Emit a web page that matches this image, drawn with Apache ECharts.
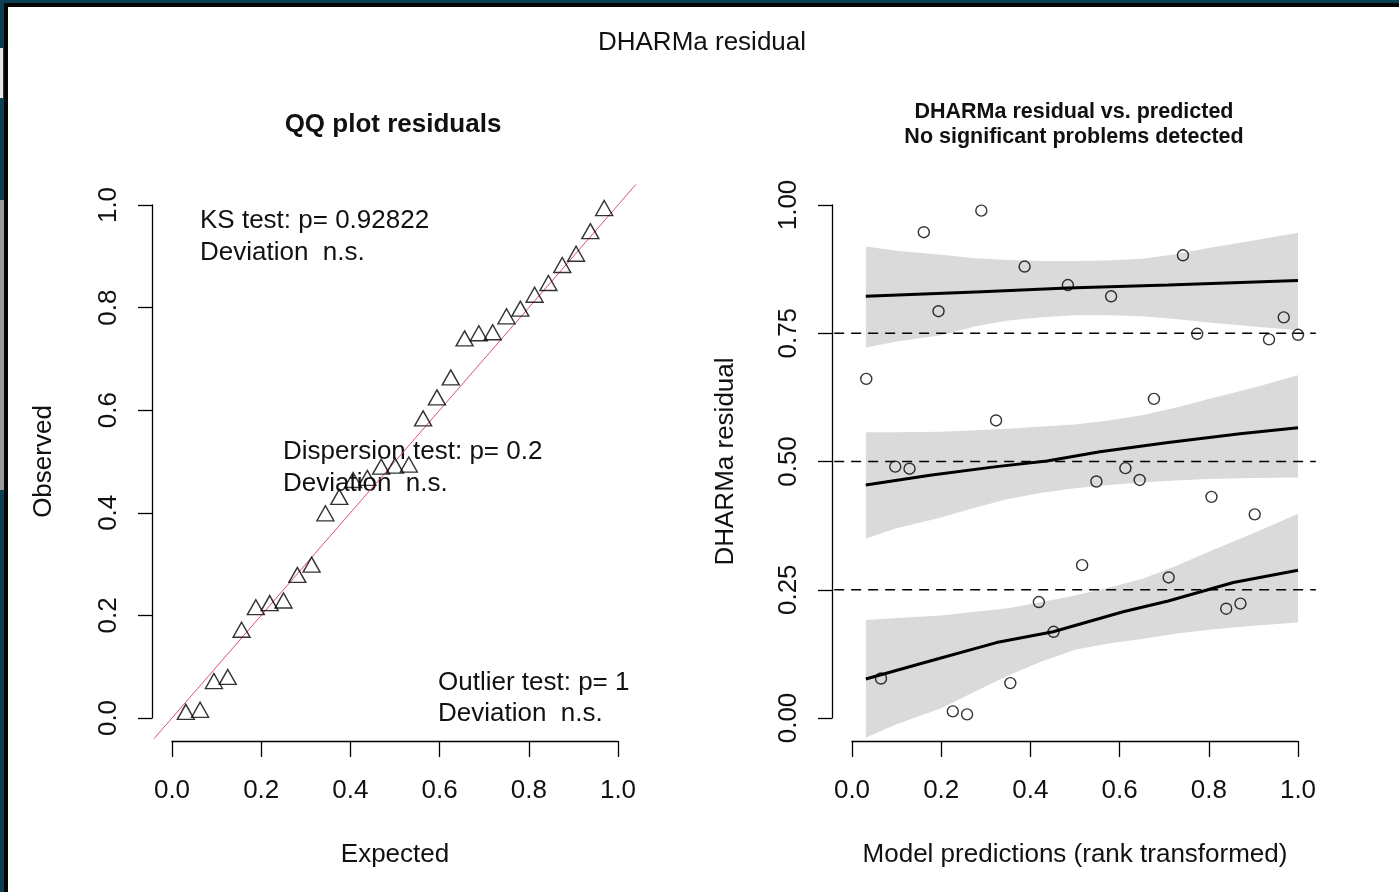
<!DOCTYPE html>
<html>
<head>
<meta charset="utf-8">
<script src="https://cdn.jsdelivr.net/npm/echarts@6/dist/echarts.min.js"></script>
<style>
html,body{margin:0;padding:0;background:#fff;}
#chart{width:1399px;height:892px;}
</style>
</head>
<body>
<div id="chart"></div>
<script>
// ---------- data ----------
// QQ plot (left)
const qqExpected = [0.031,0.063,0.094,0.125,0.156,0.188,0.219,0.250,0.281,0.313,0.344,0.375,0.406,0.438,0.469,0.500,0.531,0.563,0.594,0.625,0.656,0.688,0.719,0.750,0.781,0.813,0.844,0.875,0.906,0.938,0.969];
const qqObserved = [0.012,0.016,0.072,0.080,0.172,0.216,0.224,0.229,0.279,0.299,0.399,0.431,0.464,0.468,0.490,0.492,0.494,0.584,0.625,0.664,0.740,0.750,0.752,0.783,0.798,0.825,0.848,0.883,0.905,0.949,0.994];
const diagonal = [-0.04, 1.04];

// Residual vs predicted (right)
const rankPred = [0.032,0.065,0.097,0.129,0.161,0.194,0.226,0.258,0.290,0.323,0.355,0.387,0.419,0.452,0.484,0.516,0.548,0.581,0.613,0.645,0.677,0.710,0.742,0.774,0.806,0.839,0.871,0.903,0.935,0.968,1.000];
const residuals = [0.661,0.077,0.490,0.486,0.947,0.793,0.013,0.007,0.989,0.580,0.068,0.880,0.226,0.168,0.844,0.298,0.461,0.822,0.487,0.464,0.622,0.274,0.902,0.749,0.431,0.213,0.223,0.397,0.738,0.781,0.747];
const quantileLevels = [0.25, 0.5, 0.75];

const q75X = [0.031,0.291,0.483,0.709,1.0];
const q75Y = [0.822,0.831,0.838,0.844,0.853];
const q50X = [0.031,0.175,0.324,0.437,0.556,0.709,0.870,1.0];
const q50Y = [0.454,0.473,0.490,0.501,0.519,0.537,0.554,0.566];
const q25X = [0.031,0.175,0.324,0.451,0.608,0.709,0.855,1.0];
const q25Y = [0.076,0.111,0.147,0.168,0.207,0.228,0.264,0.288];

const bandX    = [0.031,0.1,0.2,0.275,0.35,0.425,0.5,0.575,0.65,0.725,0.8,0.9,1.0];
const band75Hi = [0.919,0.911,0.903,0.896,0.893,0.891,0.891,0.892,0.895,0.904,0.916,0.931,0.946];
const band75Lo = [0.722,0.734,0.746,0.763,0.775,0.781,0.785,0.785,0.783,0.778,0.771,0.763,0.756];
const band50Hi = [0.557,0.557,0.558,0.561,0.564,0.568,0.572,0.580,0.590,0.605,0.622,0.644,0.668];
const band50Lo = [0.350,0.370,0.391,0.410,0.427,0.439,0.448,0.454,0.459,0.463,0.466,0.468,0.469];
const band25Hi = [0.191,0.195,0.200,0.207,0.214,0.226,0.239,0.254,0.271,0.296,0.324,0.360,0.398];
const band25Lo = [-0.038,-0.012,0.019,0.051,0.083,0.110,0.133,0.145,0.154,0.164,0.172,0.180,0.186];

const qqTicks = [0, 1, 0.2];
const resTicks = [0, 1, 0.25];

// ---------- chart ----------
const FONT = "'Liberation Sans', Arial, sans-serif";
const TXT = '#111';
const chart = echarts.init(document.getElementById('chart'), null, {renderer: 'canvas'});

function zip(a, b) { return a.map((v, i) => [v, b[i]]); }

function hiddenAxis(grid, min, max) {
  return {type: 'value', gridIndex: grid, min: min, max: max, show: false};
}
function shownX(grid, ticks, digits, name) {
  return {
    type: 'value', gridIndex: grid, min: ticks[0], max: ticks[1], interval: ticks[2],
    axisLine: {show: true, lineStyle: {color: '#000', width: 1.3}},
    axisTick: {show: true, length: 16, lineStyle: {color: '#000', width: 1.3}},
    axisLabel: {fontSize: 26, fontFamily: FONT, color: TXT, margin: 37,
      formatter: v => v.toFixed(digits)},
    splitLine: {show: false},
    name: name, nameLocation: 'middle', nameGap: 101,
    nameTextStyle: {fontSize: 26, fontFamily: FONT, color: TXT}
  };
}
function shownY(grid, ticks, digits, name, nameGap) {
  return {
    type: 'value', gridIndex: grid, min: ticks[0], max: ticks[1], interval: ticks[2],
    axisLine: {show: true, lineStyle: {color: '#000', width: 1.3}},
    axisTick: {show: true, length: 14, lineStyle: {color: '#000', width: 1.3}},
    axisLabel: {fontSize: 26, fontFamily: FONT, color: TXT, margin: 30, rotate: 90,
      formatter: v => v.toFixed(digits)},
    splitLine: {show: false},
    name: name, nameLocation: 'middle', nameGap: nameGap, nameRotate: 90,
    nameTextStyle: {fontSize: 26, fontFamily: FONT, color: TXT}
  };
}

function bandSeries(lo, hi) {
  return {
    type: 'custom', xAxisIndex: 3, yAxisIndex: 3, z: 1, silent: true, clip: true,
    data: [[0.5, 0.5]],
    renderItem: function (params, api) {
      const top = bandX.map((x, i) => api.coord([x, hi[i]]));
      const bot = bandX.map((x, i) => api.coord([x, lo[i]])).reverse();
      return {type: 'polygon', shape: {points: top.concat(bot)}, style: {fill: '#dadada'}};
    }
  };
}
function lineSeries(xi, yi, data, style, z) {
  return {type: 'line', xAxisIndex: xi, yAxisIndex: yi, data: data, symbol: 'none',
    lineStyle: style, z: z, silent: true, animation: false};
}

// geometry (pixels)
const L = {x0: 172, x1: 618};   // left panel x ticks 0..1
const R = {x0: 852, x1: 1298};  // right panel x ticks 0..1
const Y = {top: 205, bottom: 718}; // y ticks 1..0
const ext = 0.04;
function dataGrid(p) {
  const w = p.x1 - p.x0, h = Y.bottom - Y.top;
  return {left: p.x0 - ext * w, width: w * (1 + 2 * ext), top: Y.top - ext * h, height: h * (1 + 2 * ext)};
}

const option = {
  backgroundColor: '#fff',
  animation: false,
  textStyle: {fontFamily: FONT},
  grid: [
    dataGrid(L),
    {left: L.x0, width: L.x1 - L.x0, top: 731, height: 10},
    {left: 152, width: 10, top: Y.top, height: Y.bottom - Y.top},
    dataGrid(R),
    {left: R.x0, width: R.x1 - R.x0, top: 731, height: 10},
    {left: 832, width: 10, top: Y.top, height: Y.bottom - Y.top}
  ],
  xAxis: [
    hiddenAxis(0, -ext, 1 + ext),
    shownX(1, qqTicks, 1, 'Expected'),
    hiddenAxis(2, 0, 1),
    hiddenAxis(3, -ext, 1 + ext),
    shownX(4, qqTicks, 1, 'Model predictions (rank transformed)'),
    hiddenAxis(5, 0, 1)
  ],
  yAxis: [
    hiddenAxis(0, -ext, 1 + ext),
    hiddenAxis(1, 0, 1),
    shownY(2, qqTicks, 1, 'Observed', 95),
    hiddenAxis(3, -ext, 1 + ext),
    hiddenAxis(4, 0, 1),
    shownY(5, resTicks, 2, 'DHARMa residual', 93)
  ],
  series: [
    // left: QQ
    lineSeries(0, 0, zip(diagonal, diagonal), {color: '#d9536e', width: 1}, 2),
    {
      type: 'scatter', xAxisIndex: 0, yAxisIndex: 0, z: 3,
      data: zip(qqExpected, qqObserved),
      symbol: 'triangle', symbolSize: [17, 15],
      itemStyle: {color: 'rgba(0,0,0,0)', borderColor: '#000', borderWidth: 1.4}
    },
    // right: bands
    bandSeries(band25Lo, band25Hi),
    bandSeries(band50Lo, band50Hi),
    bandSeries(band75Lo, band75Hi),
    // reference dashed lines
    ...quantileLevels.map(q => lineSeries(3, 3, [[-ext, q], [1 + ext, q]],
      {color: '#000', width: 1.4, type: [10, 7]}, 2)),
    // quantile regression lines
    lineSeries(3, 3, zip(q25X, q25Y), {color: '#000', width: 3}, 3),
    lineSeries(3, 3, zip(q50X, q50Y), {color: '#000', width: 3}, 3),
    lineSeries(3, 3, zip(q75X, q75Y), {color: '#000', width: 3}, 3),
    {
      type: 'scatter', xAxisIndex: 3, yAxisIndex: 3, z: 4,
      data: zip(rankPred, residuals),
      symbol: 'circle', symbolSize: 11,
      itemStyle: {color: 'rgba(0,0,0,0)', borderColor: '#000', borderWidth: 1.4}
    }
  ],
  graphic: [
    // frame
    {type: 'rect', left: 0, top: 0, shape: {width: 1399, height: 3}, style: {fill: '#0b4052'}, silent: true},
    {type: 'rect', left: 0, top: 3, shape: {width: 1399, height: 4}, style: {fill: '#050505'}, silent: true},
    {type: 'rect', left: 0, top: 0, shape: {width: 4, height: 892}, style: {fill: '#0b4052'}, silent: true},
    {type: 'rect', left: 4, top: 3, shape: {width: 4, height: 889}, style: {fill: '#050505'}, silent: true},
    {type: 'rect', left: 0, top: 48, shape: {width: 3, height: 50}, style: {fill: '#e8e8e8'}, silent: true},
    {type: 'rect', left: 0, top: 200, shape: {width: 4, height: 290}, style: {fill: '#9a9a9a'}, silent: true},
    // titles
    {type: 'text', x: 702, y: 43, style: {text: 'DHARMa residual', font: '26px ' + FONT, fill: TXT, textAlign: 'center', textVerticalAlign: 'middle'}},
    {type: 'text', x: 393, y: 125, style: {text: 'QQ plot residuals', font: 'bold 26px ' + FONT, fill: TXT, textAlign: 'center', textVerticalAlign: 'middle'}},
    {type: 'text', x: 1074, y: 124.5, style: {text: 'DHARMa residual vs. predicted\nNo significant problems detected', font: 'bold 21.5px ' + FONT, lineHeight: 25, fill: TXT, textAlign: 'center', textVerticalAlign: 'middle'}},
    // test annotations
    {type: 'text', x: 200, y: 237, style: {text: 'KS test: p= 0.92822\nDeviation  n.s.', font: '26px ' + FONT, lineHeight: 32, fill: TXT, textAlign: 'left', textVerticalAlign: 'middle'}},
    {type: 'text', x: 283, y: 468, style: {text: 'Dispersion test: p= 0.2\nDeviation  n.s.', font: '26px ' + FONT, lineHeight: 32, fill: TXT, textAlign: 'left', textVerticalAlign: 'middle'}},
    {type: 'text', x: 438, y: 698, style: {text: 'Outlier test: p= 1\nDeviation  n.s.', font: '26px ' + FONT, lineHeight: 31, fill: TXT, textAlign: 'left', textVerticalAlign: 'middle'}}
  ]
};
chart.setOption(option);
</script>
</body>
</html>
